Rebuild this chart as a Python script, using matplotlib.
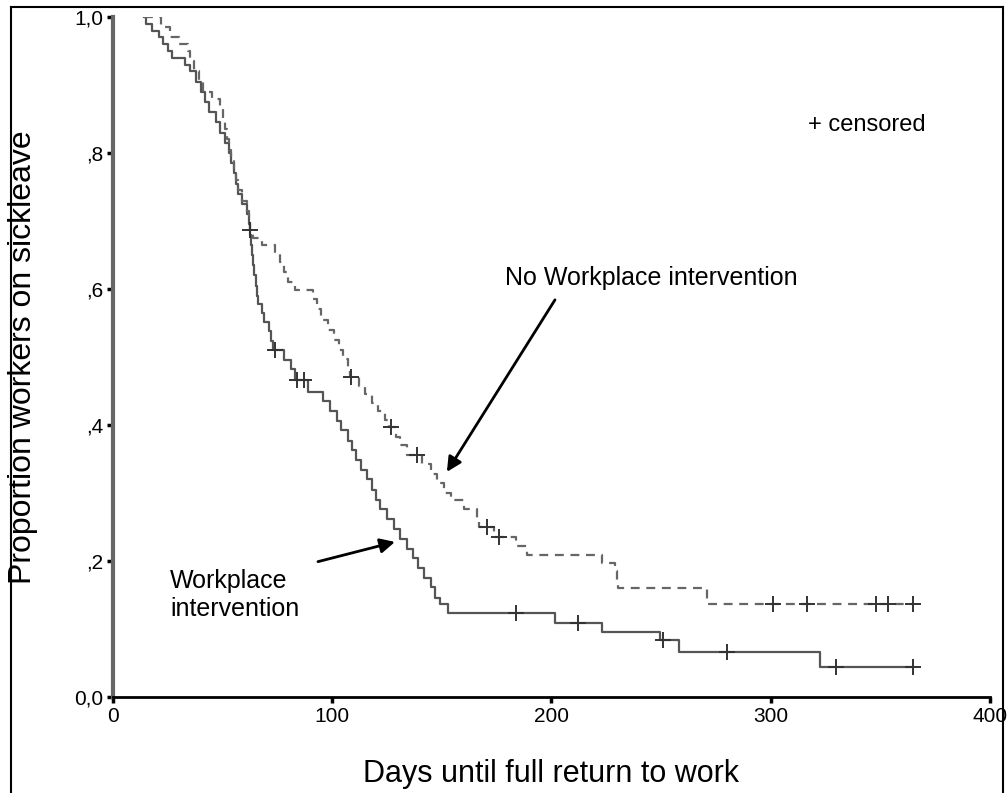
import matplotlib
matplotlib.use("Agg")
import matplotlib.pyplot as plt
from matplotlib.lines import Line2D
import numpy as np

plt.rcParams['font.family'] = ['Liberation Sans', 'DejaVu Sans']

# Kaplan-Meier steps: event day and survival after that event
wp_t = [15, 18, 21, 23, 25, 27, 33, 35, 38, 40, 42, 44, 47, 49, 51, 53, 54, 55, 56, 57,
        59, 61, 62, 62.5, 63, 63.5, 64, 64.5, 65, 65.5, 66, 68, 69, 71, 72, 73,
        78, 81, 83, 89, 96, 99, 102, 104, 107, 109, 111, 113, 116, 118, 120, 122,
        125, 128, 131, 134, 137, 139, 142, 145, 147, 149, 153, 201.5, 223, 249.5,
        258, 322.5]
wp_s = [0.99, 0.98, 0.97, 0.96, 0.95, 0.94, 0.93, 0.92, 0.905, 0.89, 0.875, 0.86, 0.845,
        0.83, 0.815, 0.80, 0.785, 0.77, 0.755, 0.74, 0.725, 0.71, 0.695, 0.68, 0.665,
        0.65, 0.635, 0.62, 0.605, 0.59, 0.578, 0.565, 0.552, 0.538, 0.524, 0.51,
        0.496, 0.482, 0.466, 0.449, 0.435, 0.42, 0.406, 0.392, 0.377, 0.363, 0.348,
        0.334, 0.32, 0.305, 0.29, 0.276, 0.262, 0.247, 0.233, 0.218, 0.204, 0.19,
        0.175, 0.161, 0.146, 0.136, 0.124, 0.109, 0.096, 0.084, 0.066, 0.044]
wp_cens = [74, 84, 87, 184, 212, 251, 280, 330, 365]

nwp_t = [22, 26, 30, 34, 35, 37, 39, 41, 45, 49, 50, 51, 52, 53, 54, 55, 56, 57, 59, 61,
         62, 62.3, 64, 68, 74, 76, 78, 80, 83, 91, 93, 95, 98, 101, 103, 105, 107, 108,
         112, 115, 118, 121, 124, 126, 129, 131, 134, 141, 145, 148, 151, 154, 160,
         166, 167, 174, 184, 189, 223, 229, 230, 230.5, 271]
nwp_s = [0.985, 0.97, 0.96, 0.95, 0.935, 0.92, 0.905, 0.89, 0.88, 0.865, 0.85, 0.835,
         0.82, 0.805, 0.79, 0.775, 0.76, 0.745, 0.73, 0.715, 0.70, 0.687, 0.675, 0.665,
         0.655, 0.64, 0.625, 0.61, 0.598, 0.585, 0.57, 0.555, 0.54, 0.525, 0.51, 0.497,
         0.483, 0.47, 0.457, 0.445, 0.432, 0.42, 0.408, 0.397, 0.383, 0.37, 0.356,
         0.342, 0.328, 0.314, 0.30, 0.289, 0.276, 0.262, 0.25, 0.235, 0.222, 0.209,
         0.197, 0.185, 0.172, 0.16, 0.137]
nwp_cens = [62.5, 108.5, 127, 138.6, 170.6, 176, 301, 316.5, 348, 353.5, 365]

start_day = 14
end_day = 365

x_ticks = [0, 100, 200, 300, 400]
y_ticks = [0.0, 0.2, 0.4, 0.6, 0.8, 1.0]
y_ticklabels = ['0,0', ',2', ',4', ',6', ',8', '1,0']


def km_line(t, s):
    x = [start_day] + list(t) + [end_day]
    y = [1.0] + list(s) + [s[-1]]
    return x, y


def cens_y(t, s, c):
    idx = np.searchsorted(np.array(t), np.array(c), side='right') - 1
    s = np.array(s)
    return np.where(idx >= 0, s[np.clip(idx, 0, None)], 1.0)


fig = plt.figure(figsize=(10.08, 7.93), dpi=100)
ax = fig.add_axes([0.1121, 0.1211, 0.870, 0.8575])

x, y = km_line(wp_t, wp_s)
ax.step(x, y, where='post', color='#555555', lw=1.6)
ax.plot(wp_cens, cens_y(wp_t, wp_s, wp_cens), '+', color='#333333', ms=11, mew=1.4)

x, y = km_line(nwp_t, nwp_s)
ax.step(x, y, where='post', color='#666666', lw=1.6, linestyle=(0, (4, 3)))
ax.plot(nwp_cens, cens_y(nwp_t, nwp_s, nwp_cens), '+', color='#333333', ms=11, mew=1.4)

ax.set_xlim(0, 400)
ax.set_ylim(0, 1.0)
ax.set_xticks(x_ticks)
ax.set_yticks(y_ticks)
ax.set_yticklabels(y_ticklabels)
ax.tick_params(axis='both', length=4, width=2.5, labelsize=15, pad=3)
for side in ['top', 'right']:
    ax.spines[side].set_visible(False)
ax.spines['left'].set_color('#666666')
ax.spines['left'].set_linewidth(3)
ax.spines['bottom'].set_linewidth(2)
ax.patch.set_alpha(0)

ax.set_xlabel('Days until full return to work', fontsize=22, labelpad=24)
ax.set_ylabel('Proportion workers on sickleave', fontsize=23, labelpad=26)

ax.text(317, 0.841, '+ censored', fontsize=17, va='center', ha='left')
ax.text(245.7, 0.616, 'No Workplace intervention', fontsize=18, ha='center', va='center')
ax.annotate('', xy=(152.3, 0.331), xytext=(201.6, 0.584),
            arrowprops=dict(arrowstyle='-|>', color='black', lw=2, mutation_scale=22,
                            shrinkA=0, shrinkB=0))
ax.text(26, 0.15, 'Workplace\nintervention', fontsize=18, ha='left', va='center',
        linespacing=1.2)
ax.annotate('', xy=(128.6, 0.228), xytext=(93.5, 0.199),
            arrowprops=dict(arrowstyle='-|>', color='black', lw=2, mutation_scale=22,
                            shrinkA=0, shrinkB=0))

# frame around the figure
fig.add_artist(Line2D([0.011, 0.011], [0, 0.991], transform=fig.transFigure, color='black', lw=1.5))
fig.add_artist(Line2D([0.011, 0.995], [0.991, 0.991], transform=fig.transFigure, color='black', lw=1.5))
fig.add_artist(Line2D([0.995, 0.995], [0, 0.991], transform=fig.transFigure, color='black', lw=1.5))

fig.savefig('out.png', dpi=100)
